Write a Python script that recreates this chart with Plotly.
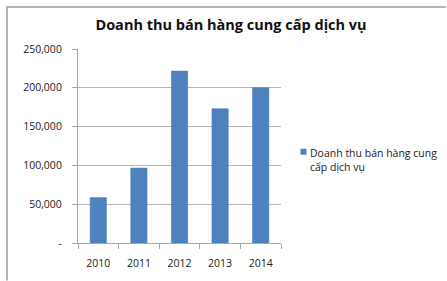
import plotly.graph_objects as go

# Data
years = ["2010", "2011", "2012", "2013", "2014"]
revenue = [58500, 96500, 221500, 173000, 200000]
series_name = "Doanh thu bán hàng cung cấp dịch vụ"
legend_lines = ["Doanh thu bán hàng cung", "cấp dịch vụ"]
y_tickvals = [0, 50000, 100000, 150000, 200000, 250000]
y_ticktext = ["-", "50,000", "100,000", "150,000", "200,000", "250,000"]

W, H = 447, 281
L, R, T, B = 78, 166, 49, 37.5
PW, PH = W - L - R, H - T - B


def px_x(p):
    return (p - L) / PW


def px_y(p):
    return (H - B - p) / PH


FONT = "'Open Sans', Lato, Arial, sans-serif"
BLUE = "#4F81BD"
FRAME = "#B4B4B4"

fig = go.Figure()
fig.add_trace(go.Bar(
    x=years, y=revenue, name=series_name,
    marker=dict(color=BLUE, line=dict(color="#4A7EBB", width=0.6)),
    showlegend=False,
))

fig.update_layout(
    width=W, height=H,
    margin=dict(l=L, r=R, t=T, b=B, pad=0),
    paper_bgcolor="white", plot_bgcolor="white",
    bargap=0.6,
    font=dict(family=FONT, size=10.5, color="#222222"),
    title=dict(
        text="<b>" + series_name + "</b>",
        x=231 / W, xanchor="center", xref="container",
        y=1 - 25 / H, yanchor="middle", yref="container",
        font=dict(family=FONT, size=14.5, color="#111111"),
    ),
    xaxis=dict(
        type="category",
        showline=True, linecolor="#A6A6A6", linewidth=1,
        ticks="outside", ticklen=5, tickcolor="#A6A6A6",
        tickson="boundaries",
        ticklabelstandoff=10,
        showgrid=False,
        tickfont=dict(size=10.5, color="#222222"),
    ),
    yaxis=dict(
        range=[0, 250000],
        tickvals=y_tickvals, ticktext=y_ticktext,
        showline=True, linecolor="#A6A6A6", linewidth=1,
        ticks="outside", ticklen=5, tickcolor="#A6A6A6",
        ticklabelstandoff=8,
        showgrid=True, gridcolor="#B5B5B5", gridwidth=1,
        zeroline=False,
        tickfont=dict(size=10.5, color="#222222"),
    ),
    shapes=[
        dict(type="rect", xref="paper", yref="paper", layer="above",
             x0=px_x(6), x1=px_x(446), y0=px_y(8), y1=px_y(6),
             line=dict(width=0), fillcolor=FRAME),
        dict(type="rect", xref="paper", yref="paper", layer="above",
             x0=px_x(6), x1=px_x(8), y0=px_y(6), y1=px_y(281),
             line=dict(width=0), fillcolor=FRAME),
        dict(type="rect", xref="paper", yref="paper",
             x0=px_x(300.5), x1=px_x(306.5), y0=px_y(155), y1=px_y(149),
             line=dict(width=0), fillcolor=BLUE),
    ],
    annotations=[
        dict(text="<br>".join(legend_lines), xref="paper", yref="paper",
             x=px_x(308), y=px_y(144), xanchor="left", yanchor="top",
             align="left", showarrow=False,
             font=dict(family=FONT, size=10.5, color="#222222")),
    ],
)

fig.write_html("out.html", config={"displayModeBar": False},
               post_script="document.body.style.margin='0';")
